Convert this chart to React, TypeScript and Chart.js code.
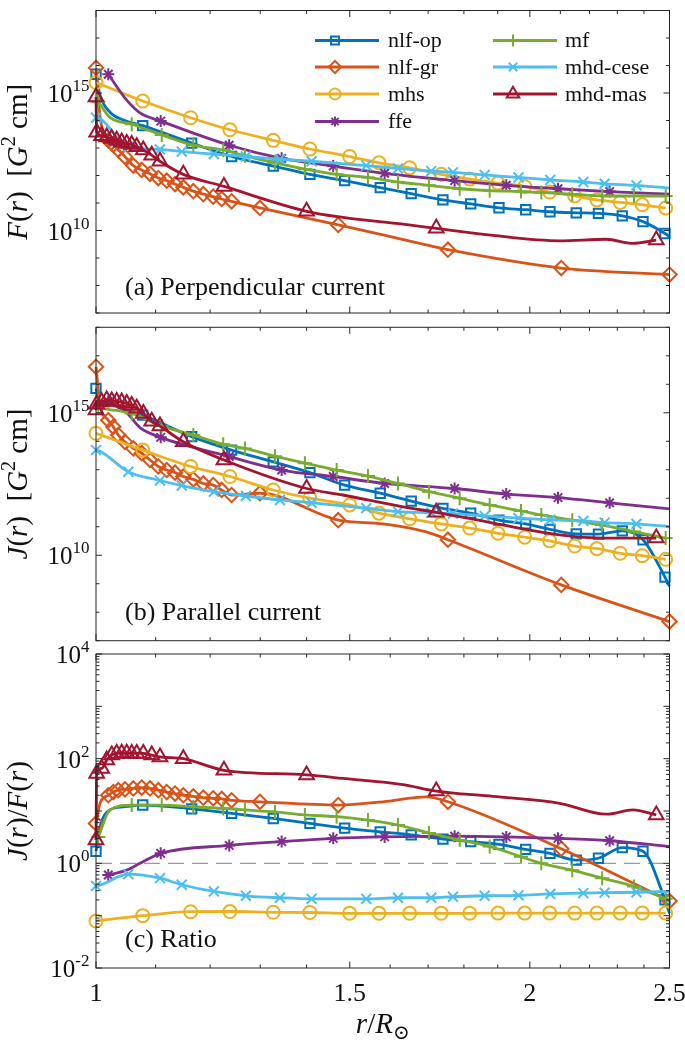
import { useEffect, useRef } from 'react';
import { Chart, registerables } from 'chart.js';

Chart.register(...registerables);

const W = 685;
const H = 1041;
const SERIF = '"Liberation Serif", "Times New Roman", "DejaVu Serif", serif';
const AXIS = '#262626';
const TEXT = '#111111';

// ---------------- data ----------------
// nlf-op
const nlfOpX = [1.0, 1.0064, 1.0226, 1.0446, 1.0775, 1.1652, 1.2419, 1.3274, 1.4074, 1.4877, 1.5748, 1.6547, 1.7407, 1.8197, 1.9038, 1.9868, 2.0654, 2.154, 2.2317, 2.3183, 2.3963, 2.482, 2.5];
const nlfOpMark = [1, 0, 0, 0, 1, 1, 1, 1, 1, 1, 1, 1, 1, 1, 1, 1, 1, 1, 1, 1, 1, 1, 0];
const nlfOpF = [4.8e15, 8.3e14, 2.0e14, 1.05e14, 6.5e13, 1.5e13, 4.9e12, 2.2e12, 1.1e12, 6.5e11, 3.6e11, 2.2e11, 1.3e11, 9.3e10, 6.7e10, 5.7e10, 4.8e10, 4.4e10, 4.2e10, 3.4e10, 2.1e10, 7.8e9, 6.0e9];
const nlfOpJ = [7.2e15, 2.5e15, 2.0e15, 1.3e15, 8.3e14, 1.45e14, 4.9e13, 1.9e13, 7.9e12, 2.9e12, 1.5e12, 7.9e11, 4.4e11, 3.0e11, 1.7e11, 1.26e11, 8.1e10, 5.6e10, 5.5e10, 7.2e10, 3.5e10, 1.7e9, 8e8];
const nlfOpR = [1.7, 5, 10.5, 12, 13, 11, 9, 7.2, 5.8, 4.7, 4.0, 3.5, 2.9, 2.6, 2.3, 1.85, 1.55, 1.15, 1.25, 2.0, 1.7, 0.2, 0.11];

// nlf-gr
const nlfGrX = [1.0, 1.0064, 1.0198, 1.028, 1.0363, 1.0474, 1.0614, 1.0758, 1.0901, 1.1047, 1.1196, 1.1346, 1.1497, 1.1682, 1.187, 1.206, 1.2223, 1.2419, 1.2994, 1.4726, 1.5816, 1.6948, 1.7547, 2.103, 2.5];
const nlfGrMark = [1, 0, 1, 1, 1, 1, 1, 1, 1, 1, 1, 1, 1, 1, 1, 1, 1, 1, 1, 1, 0, 0, 1, 1, 1];
const nlfGrF = [8.2e15, 1.45e14, 1.9e13, 1.32e13, 8.5e12, 4.8e12, 2.3e12, 1.6e12, 1.15e12, 8.1e11, 6.5e11, 4.9e11, 3.7e11, 2.7e11, 2.1e11, 1.7e11, 1.4e11, 1.15e11, 6.6e10, 1.6e10, 6.9e9, 3.0e9, 2.0e9, 4.3e8, 2.5e8];
const nlfGrJ = [4.1e16, 1.9e15, 5.5e14, 3.2e14, 1.65e14, 9.5e13, 5.6e13, 3.8e13, 2.2e13, 1.3e13, 9.8e12, 7.9e12, 5.8e12, 4.6e12, 3.3e12, 2.9e12, 1.95e12, 1.3e12, 1.5e12, 1.7e11, 1.26e11, 6.6e10, 3.5e10, 9.1e8, 4.7e7];
const nlfGrR = [5.8, 14, 20, 23, 25, 26, 27, 28, 27, 25, 23, 21.5, 20, 19, 18, 17.5, 17, 16, 15, 13, 15, 18.6, 15, 1.9, 0.19];

// mhs
const mhsX = [1.0, 1.0775, 1.1633, 1.2386, 1.3274, 1.4074, 1.4997, 1.5716, 1.6505, 1.736, 1.8168, 1.9008, 1.9837, 2.0644, 2.1485, 2.2263, 2.3108, 2.3937, 2.4848];
const mhsMark = [1, 1, 1, 1, 1, 1, 1, 1, 1, 1, 1, 1, 1, 1, 1, 1, 1, 1, 1];
const mhsF = [2.4e15, 5.1e14, 1.26e14, 4.6e13, 1.9e13, 9.2e12, 4.9e12, 2.9e12, 1.9e12, 1.1e12, 7.4e11, 5.3e11, 4.0e11, 2.5e11, 1.8e11, 1.3e11, 1.05e11, 8.6e10, 6.6e10];
const mhsJ = [1.9e14, 4.9e13, 1.3e13, 5.8e12, 1.95e12, 1.0e12, 5.8e11, 3.0e11, 1.9e11, 1.26e11, 9e10, 5.9e10, 4.3e10, 3.2e10, 2.1e10, 1.7e10, 1.17e10, 9.6e9, 7.2e9];
const mhsR = [0.079, 0.1, 0.119, 0.12, 0.116, 0.115, 0.111, 0.111, 0.111, 0.111, 0.111, 0.112, 0.112, 0.112, 0.112, 0.112, 0.112, 0.112, 0.112];

// ffe
const ffeX = [1.0198, 1.0503, 1.0728, 1.1089, 1.2372, 1.3453, 1.4609, 1.5859, 1.7736, 1.9261, 2.092, 2.272, 2.5];
const ffeMark = [1, 0, 0, 1, 1, 1, 1, 1, 1, 1, 1, 1, 0];
const ffeF = [4.8e15, 5.5e14, 1.9e14, 9.5e13, 1.26e13, 4.2e12, 2.2e12, 1.2e12, 6.5e11, 4.4e11, 3.3e11, 2.6e11, 2.1e11];
const ffeJ = [2.5e15, 1.0e15, 3.0e14, 1.37e14, 2.9e13, 9.8e12, 5.8e12, 3.3e12, 2.2e12, 1.4e12, 1.05e12, 6.9e11, 4.2e11];
const ffeR = [0.6, 0.74, 1.0, 1.55, 2.2, 2.6, 3.0, 3.2, 3.3, 3.2, 3.0, 2.7, 2.1];

// mf
const mfX = [1.0037, 1.0226, 1.0587, 1.1107, 1.1682, 1.2254, 1.2686, 1.331, 1.3962, 1.4688, 1.5442, 1.62, 1.7022, 1.788, 1.8757, 1.972, 2.037, 2.1403, 2.245, 2.362, 2.4848];
const mfMark = [1, 0, 1, 1, 1, 1, 1, 1, 1, 1, 1, 1, 1, 1, 1, 1, 1, 1, 1, 1, 1];
const mfF = [4.8e14, 1.3e14, 7.3e13, 3.0e13, 1.26e13, 8.5e12, 5.2e12, 2.9e12, 1.7e12, 1.1e12, 8.5e11, 5.8e11, 4.4e11, 3.3e11, 2.8e11, 2.6e11, 2.4e11, 2.1e11, 1.8e11, 1.8e11, 1.8e11];
const mfJ = [1.5e15, 1.3e15, 9.5e14, 3.4e14, 1.65e14, 7.9e13, 5.6e13, 3.0e13, 1.7e13, 9.8e12, 6.0e12, 3.3e12, 1.7e12, 1.0e12, 5.8e11, 3.6e11, 2.6e11, 1.7e11, 1.15e11, 6.8e10, 4.0e10];
const mfR = [3.2, 10.5, 13, 13, 12, 11.2, 10.5, 9.6, 8.4, 7.8, 6.7, 5.4, 3.8, 2.8, 2.1, 1.34, 1.0, 0.74, 0.52, 0.36, 0.21];

// mhd-cese
const ceseX = [1.0, 1.008, 1.053, 1.1076, 1.1468, 1.2073, 1.2706, 1.3416, 1.4112, 1.54, 1.62, 1.7085, 1.7688, 1.8608, 1.9641, 2.0664, 2.1783, 2.2539, 2.3715, 2.5];
const ceseMark = [1, 0, 1, 1, 1, 1, 1, 1, 1, 1, 1, 1, 1, 1, 1, 1, 1, 1, 1, 0];
const ceseF = [1.26e14, 1.1e14, 1.1e13, 8.9e12, 7.4e12, 6.0e12, 4.9e12, 3.9e12, 3.3e12, 2.3e12, 1.8e12, 1.45e12, 1.3e12, 1.05e12, 8.5e11, 6.9e11, 5.8e11, 5.0e11, 4.4e11, 3.5e11];
const ceseJ = [4.9e13, 4.3e13, 8.5e12, 4.2e12, 2.8e12, 1.7e12, 1.2e12, 8.7e11, 6.9e11, 4.5e11, 3.4e11, 3.1e11, 2.9e11, 2.4e11, 2.0e11, 1.74e11, 1.6e11, 1.4e11, 1.26e11, 1.0e11];
const ceseR = [0.37, 0.39, 0.62, 0.52, 0.39, 0.29, 0.24, 0.22, 0.21, 0.21, 0.22, 0.22, 0.23, 0.24, 0.245, 0.26, 0.27, 0.275, 0.28, 0.29];

// mhd-mas
const masX = [1.0, 1.0011, 1.0091, 1.0172, 1.0254, 1.0336, 1.0419, 1.0503, 1.0587, 1.0672, 1.0785, 1.0931, 1.1076, 1.1497, 1.2268, 1.4, 1.4837, 1.633, 1.7222, 1.8856, 2.0976, 2.2597, 2.3583, 2.4478];
const masMark = [1, 1, 1, 1, 1, 1, 1, 1, 1, 1, 1, 1, 1, 1, 1, 1, 0, 0, 1, 0, 0, 0, 0, 1];
const masF = [7.2e14, 3.7e13, 2.8e13, 2.5e13, 2.2e13, 1.9e13, 1.67e13, 1.45e13, 1.35e13, 1.1e13, 8.5e12, 5.5e12, 3.3e12, 1.1e12, 4.0e11, 5.0e10, 3.0e10, 1.7e10, 1.2e10, 6.6e9, 4.2e9, 4.8e9, 3.4e9, 4.5e9];
const masJ = [1.24e15, 2.0e15, 2.45e15, 2.8e15, 2.6e15, 2.5e15, 2.4e15, 2.1e15, 1.8e15, 1.45e15, 9.5e14, 5.0e14, 3.4e14, 9.6e13, 2.2e13, 2.2e12, 1.3e12, 5.0e11, 3.2e11, 1.35e11, 5.2e10, 4.0e10, 4.0e10, 4.0e10];
const masR = [2.8, 52, 65, 94, 117, 126, 127, 127, 126, 126, 126, 117, 108, 100, 60, 49, 42, 32, 24, 19, 14, 8.7, 10.5, 8.4];

// reference line J/F = 1
const unityX = [1, 2.5];
const unityY = [1, 1];

// ticks
const xMajorTicks = [1, 1.5, 2, 2.5];
const xMajorLabels = ['1', '1.5', '2', '2.5'];
const xMinorTicks = [1.1, 1.2, 1.3, 1.4, 1.6, 1.7, 1.8, 1.9, 2.1, 2.2, 2.3, 2.4];
const fjDecades = [7, 8, 9, 10, 11, 12, 13, 14, 15, 16, 17, 18];
const fjLabeled = [10, 15];
const rDecades = [-2, -1, 0, 1, 2, 3, 4];
const rLabeled = [-2, 0, 2, 4];
const rMinorMult = [2, 3, 4, 5, 6, 7, 8, 9];

// ---------------- styling ----------------
const COLORS = ['rgb(0,114,189)', 'rgb(217,83,25)', 'rgb(237,177,32)', 'rgb(126,47,142)', 'rgb(119,172,48)', 'rgb(77,190,238)', 'rgb(162,20,47)'];

type Series = { label: string; color: string; shape: string; radius: number; x: number[]; mark: number[]; F: number[]; J: number[]; R: number[] };

const SERIES: Series[] = [
  { label: 'nlf-op', color: COLORS[0], shape: 'rect', radius: 6.6, x: nlfOpX, mark: nlfOpMark, F: nlfOpF, J: nlfOpJ, R: nlfOpR },
  { label: 'nlf-gr', color: COLORS[1], shape: 'rectRot', radius: 7.2, x: nlfGrX, mark: nlfGrMark, F: nlfGrF, J: nlfGrJ, R: nlfGrR },
  { label: 'mhs', color: COLORS[2], shape: 'circle', radius: 6.5, x: mhsX, mark: mhsMark, F: mhsF, J: mhsJ, R: mhsR },
  { label: 'ffe', color: COLORS[3], shape: 'star', radius: 6, x: ffeX, mark: ffeMark, F: ffeF, J: ffeJ, R: ffeR },
  { label: 'mf', color: COLORS[4], shape: 'cross', radius: 7, x: mfX, mark: mfMark, F: mfF, J: mfJ, R: mfR },
  { label: 'mhd-cese', color: COLORS[5], shape: 'crossRot', radius: 7, x: ceseX, mark: ceseMark, F: ceseF, J: ceseJ, R: ceseR },
  { label: 'mhd-mas', color: COLORS[6], shape: 'triangle', radius: 8.5, x: masX, mark: masMark, F: masF, J: masJ, R: masR },
];

type Seg = [string, string]; // text, style: i | r | sup | sub
type Panel = {
  key: 'F' | 'J' | 'R';
  top: number;
  bottom: number;
  yMin: number;
  yMax: number;
  title: Seg[];
  note: string;
  noteY: number;
};

const PANELS: Panel[] = [
  { key: 'F', top: 0.5, bottom: 313, yMin: 1e7, yMax: 1e18, title: [['F', 'i'], ['(', 'r'], ['r', 'i'], [')', 'r'], ['  [', 'r'], ['G', 'i'], ['2', 'sup'], [' cm]', 'r']], note: '(a) Perpendicular current', noteY: 295 },
  { key: 'J', top: 327.3, bottom: 640.7, yMin: 1e7, yMax: 1e18, title: [['J', 'i'], ['(', 'r'], ['r', 'i'], [')', 'r'], ['  [', 'r'], ['G', 'i'], ['2', 'sup'], [' cm]', 'r']], note: '(b) Parallel current', noteY: 620 },
  { key: 'R', top: 654, bottom: 968, yMin: 1e-2, yMax: 1e4, title: [['J', 'i'], ['(', 'r'], ['r', 'i'], [')', 'r'], ['/', 'r'], ['F', 'i'], ['(', 'r'], ['r', 'i'], [')', 'r']], note: '(c) Ratio', noteY: 947 },
];

const LEFT = 96;
const RIGHT = 669.5;

function segFont(style: string, size: number): string {
  if (style === 'i') return `italic ${size}px ${SERIF}`;
  if (style === 'sup' || style === 'sub') return `${Math.round(size * 0.7)}px ${SERIF}`;
  return `${size}px ${SERIF}`;
}

function drawRich(ctx: CanvasRenderingContext2D, segs: Seg[], x: number, y: number, size: number, align: 'center' | 'left') {
  const widths = segs.map(([t, s]) => {
    ctx.font = segFont(s, size);
    return ctx.measureText(t).width;
  });
  const total = widths.reduce((a, b) => a + b, 0);
  let cx = align === 'center' ? x - total / 2 : x;
  ctx.textAlign = 'left';
  ctx.textBaseline = 'alphabetic';
  segs.forEach(([t, s], i) => {
    ctx.font = segFont(s, size);
    const dy = s === 'sup' ? -size * 0.42 : s === 'sub' ? size * 0.22 : 0;
    ctx.fillText(t, cx, y + dy);
    cx += widths[i];
  });
}

function drawPow(ctx: CanvasRenderingContext2D, exp: string, xr: number, y: number) {
  ctx.textAlign = 'left';
  ctx.textBaseline = 'alphabetic';
  ctx.font = `25px ${SERIF}`;
  const wb = ctx.measureText('10').width;
  ctx.font = `17px ${SERIF}`;
  const we = ctx.measureText(exp).width;
  ctx.font = `25px ${SERIF}`;
  ctx.fillText('10', xr - we - wb, y + 9);
  ctx.font = `17px ${SERIF}`;
  ctx.fillText(exp, xr - we, y - 2);
}

function drawMarker(ctx: CanvasRenderingContext2D, shape: string, x: number, y: number, r: number) {
  ctx.beginPath();
  const d = r * Math.SQRT1_2;
  switch (shape) {
    case 'rect':
      ctx.rect(x - d, y - d, 2 * d, 2 * d);
      break;
    case 'rectRot':
      ctx.moveTo(x - r, y);
      ctx.lineTo(x, y - r);
      ctx.lineTo(x + r, y);
      ctx.lineTo(x, y + r);
      ctx.closePath();
      break;
    case 'circle':
      ctx.arc(x, y, r, 0, Math.PI * 2);
      break;
    case 'triangle':
      ctx.moveTo(x, y - r);
      ctx.lineTo(x + r * 0.866, y + r * 0.5);
      ctx.lineTo(x - r * 0.866, y + r * 0.5);
      ctx.closePath();
      break;
    case 'cross':
      ctx.moveTo(x, y - r);
      ctx.lineTo(x, y + r);
      ctx.moveTo(x - r, y);
      ctx.lineTo(x + r, y);
      break;
    case 'crossRot':
      ctx.moveTo(x - d, y - d);
      ctx.lineTo(x + d, y + d);
      ctx.moveTo(x + d, y - d);
      ctx.lineTo(x - d, y + d);
      break;
    case 'star':
      ctx.moveTo(x, y - r);
      ctx.lineTo(x, y + r);
      ctx.moveTo(x - r, y);
      ctx.lineTo(x + r, y);
      ctx.moveTo(x - d, y - d);
      ctx.lineTo(x + d, y + d);
      ctx.moveTo(x + d, y - d);
      ctx.lineTo(x - d, y + d);
      break;
  }
  ctx.stroke();
}

const LEGEND_ROWS = [40.5, 67, 94, 121.5];
const LEGEND_COLS = [
  { x0: 315, x1: 379, mx: 335, tx: 388, items: [0, 1, 2, 3] },
  { x0: 493, x1: 557, mx: 513, tx: 565, items: [4, 5, 6] },
];

function framePlugin(p: Panel, isLast: boolean) {
  return {
    id: 'frame' + p.key,
    afterDraw(chart: any) {
      const ctx: CanvasRenderingContext2D = chart.ctx;
      const { left, right, top, bottom } = chart.chartArea;
      const xs = chart.scales.x;
      const ys = chart.scales.y;
      ctx.save();
      ctx.strokeStyle = AXIS;
      ctx.lineWidth = 1;
      ctx.strokeRect(left, top, right - left, bottom - top);
      ctx.beginPath();
      const vtick = (v: number, len: number) => {
        const px = xs.getPixelForValue(v);
        ctx.moveTo(px, bottom);
        ctx.lineTo(px, bottom - len);
        ctx.moveTo(px, top);
        ctx.lineTo(px, top + len);
      };
      xMajorTicks.forEach((v) => vtick(v, 6.5));
      xMinorTicks.forEach((v) => vtick(v, 3.5));
      const htick = (v: number, len: number) => {
        const py = ys.getPixelForValue(v);
        ctx.moveTo(left, py);
        ctx.lineTo(left + len, py);
        ctx.moveTo(right, py);
        ctx.lineTo(right - len, py);
      };
      if (p.key === 'R') {
        rDecades.forEach((d) => {
          htick(Math.pow(10, d), 6);
          if (d < 4) rMinorMult.forEach((m) => htick(m * Math.pow(10, d), 3.5));
        });
      } else {
        fjDecades.forEach((d) => htick(Math.pow(10, d), fjLabeled.includes(d) ? 6 : 3.5));
      }
      ctx.stroke();

      // y tick labels
      ctx.fillStyle = TEXT;
      const labeled = p.key === 'R' ? rLabeled : fjLabeled;
      labeled.forEach((d) => drawPow(ctx, String(d), 89.5, ys.getPixelForValue(Math.pow(10, d))));

      // x tick labels (bottom panel only)
      if (isLast) {
        ctx.font = `26px ${SERIF}`;
        ctx.textAlign = 'center';
        ctx.textBaseline = 'alphabetic';
        xMajorTicks.forEach((v, i) => ctx.fillText(xMajorLabels[i], xs.getPixelForValue(v), 1001));
        drawRich(ctx, [['r', 'i'], ['/', 'r'], ['R', 'i'], ['\u2299', 'sub']], (left + right) / 2, 1033, 29, 'center');
      }

      // y axis title
      ctx.save();
      ctx.translate(27, (top + bottom) / 2);
      ctx.rotate(-Math.PI / 2);
      drawRich(ctx, p.title, 0, 0, 29, 'center');
      ctx.restore();

      // panel note
      ctx.font = `26px ${SERIF}`;
      ctx.textAlign = 'left';
      ctx.textBaseline = 'alphabetic';
      ctx.fillText(p.note, 125, p.noteY);

      // legend (top panel)
      if (p.key === 'F') {
        LEGEND_COLS.forEach((col) => {
          col.items.forEach((si, row) => {
            const s = SERIES[si];
            const y = LEGEND_ROWS[row];
            ctx.strokeStyle = s.color;
            ctx.lineWidth = 2.8;
            ctx.beginPath();
            ctx.moveTo(col.x0, y);
            ctx.lineTo(col.x1, y);
            ctx.stroke();
            ctx.lineWidth = 2;
            drawMarker(ctx, s.shape, col.mx, y, s.radius * 0.85);
            ctx.fillStyle = TEXT;
            ctx.font = `22px ${SERIF}`;
            ctx.textAlign = 'left';
            ctx.textBaseline = 'middle';
            ctx.fillText(s.label, col.tx, y + 1);
          });
        });
      }
      ctx.restore();
    },
  };
}

function buildConfig(p: Panel, isLast: boolean): any {
  const datasets: any[] = SERIES.map((s, i) => ({
    label: s.label,
    data: s.x.map((xv, j) => ({ x: xv, y: s[p.key][j] })),
    borderColor: s.color,
    backgroundColor: s.color,
    borderWidth: 2.8,
    pointStyle: s.shape,
    pointRadius: s.mark.map((m) => (m ? s.radius : 0)),
    pointHoverRadius: 0,
    pointBorderColor: s.color,
    pointBackgroundColor: 'rgba(0,0,0,0)',
    pointBorderWidth: 2,
    cubicInterpolationMode: 'monotone',
    fill: false,
    clip: false,
    order: 10 - i,
  }));
  if (p.key === 'R') {
    datasets.push({
      label: 'unity',
      data: unityX.map((xv, j) => ({ x: xv, y: unityY[j] })),
      borderColor: '#9a9a9a',
      borderWidth: 1.2,
      borderDash: [16, 8],
      pointRadius: 0,
      fill: false,
      order: 50,
    });
  }
  return {
    type: 'line',
    data: { datasets },
    options: {
      responsive: false,
      animation: false,
      devicePixelRatio: 1,
      events: [],
      layout: { padding: { left: LEFT, right: W - RIGHT, top: p.top, bottom: H - p.bottom } },
      plugins: { legend: { display: false }, tooltip: { enabled: false } },
      scales: {
        x: { type: 'logarithmic', min: 1, max: 2.5, display: false },
        y: { type: 'logarithmic', min: p.yMin, max: p.yMax, display: false },
      },
    },
    plugins: [framePlugin(p, isLast)],
  };
}

export default function App() {
  const r0 = useRef<HTMLCanvasElement>(null);
  const r1 = useRef<HTMLCanvasElement>(null);
  const r2 = useRef<HTMLCanvasElement>(null);
  useEffect(() => {
    const refs = [r0, r1, r2];
    const charts = PANELS.map((p, i) => new Chart(refs[i].current as HTMLCanvasElement, buildConfig(p, i === PANELS.length - 1)));
    return () => charts.forEach((c) => c.destroy());
  }, []);
  const cs: any = { position: 'absolute', left: 0, top: 0, width: W, height: H };
  return (
    <div style={{ position: 'absolute', left: 0, top: 0, width: W, height: H, background: '#ffffff' }}>
      <canvas ref={r0} width={W} height={H} style={cs} />
      <canvas ref={r1} width={W} height={H} style={cs} />
      <canvas ref={r2} width={W} height={H} style={cs} />
    </div>
  );
}
